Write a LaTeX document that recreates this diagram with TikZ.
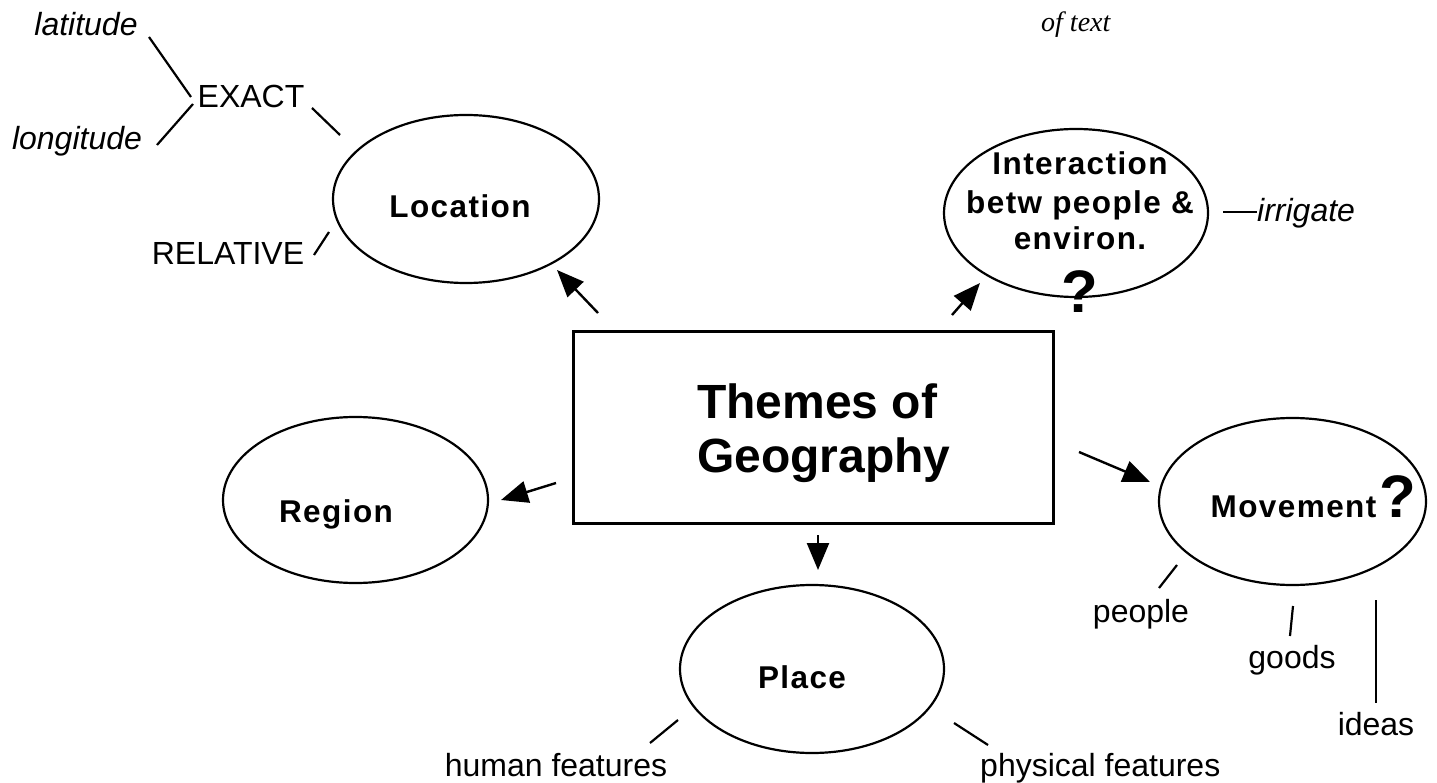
\documentclass[tikz,border=0pt]{standalone}
\usepackage{fontspec}
\setmainfont{Liberation Sans}
\newfontfamily\lblfont[LetterSpace=4.5]{Liberation Sans}
\newfontfamily\chancfont{Liberation Serif}
\usetikzlibrary{arrows.meta,shapes.geometric}
\tikzset{
  theme/.style={draw, ellipse, line width=2.2pt, minimum width=266pt, minimum height=168pt, inner sep=0pt},
  lbl/.style={font=\lblfont\bfseries\fontsize{31.5}{37.5}\selectfont, inner sep=0pt, anchor=base},
  txt/.style={font=\fontsize{32}{38}\selectfont, inner sep=0pt, anchor=base},
  itxt/.style={font=\fontsize{32}{38}\selectfont\itshape, inner sep=0pt, anchor=base},
  link/.style={line width=2.2pt},
  arr/.style={line width=2.4pt, -{Triangle[length=27pt,width=22pt]}},
  qm/.style={font=\bfseries\fontsize{60}{60}\selectfont, inner sep=0pt, anchor=base},
  title/.style={font=\bfseries\fontsize{48}{54}\selectfont, inner sep=0pt, anchor=base west}
}
\begin{document}
\begin{tikzpicture}[x=1pt,y=-1pt]
\useasboundingbox (0,0) rectangle (1437,783);
% central box
\node[draw, line width=3pt, minimum width=480pt, minimum height=191pt, inner sep=0pt] (box) at (813,427.5) {};
\node[title] (t1) at (697,418) {Themes of};
\node[title] (t2) at (697,472) {Geography};
% theme ellipses
\node[theme] (loc) at (466,199) {};
\node[theme, minimum width=264pt] (inter) at (1076,213) {};
\node[theme, minimum width=265pt, minimum height=166pt] (region) at (355.5,500) {};
\node[theme, minimum width=264pt] (place) at (812,669) {};
\node[theme, minimum width=267pt, minimum height=167pt] (move) at (1292.5,501.5) {};
% labels in ellipses
\node[lbl] (locl) at (460,218) {Location};
\node[lbl] (regl) at (336,522) {Region};
\node[lbl] (plal) at (802,688) {Place};
\node[lbl] (movl) at (1293.5,517) {Movement};
\node[qm] (movq) at (1397.5,517) {?};
\node[lbl] (int1) at (1080,175) {Interaction};
\node[lbl] (int2) at (1080,214) {betw people \&};
\node[lbl] (int3) at (1080,250) {environ.};
\node[qm] (intq) at (1080,313) {?};
% arrows
\coordinate (a1s) at (598,313); \coordinate (a1e) at (557,270);
\coordinate (a2s) at (952,315); \coordinate (a2e) at (980,283);
\coordinate (a3s) at (556,483); \coordinate (a3e) at (501,500);
\coordinate (a4s) at (818,535); \coordinate (a4e) at (818,570);
\coordinate (a5s) at (1079,452); \coordinate (a5e) at (1150,482);
\draw[arr] (a1s) -- (a1e);
\draw[arr] (a2s) -- (a2e);
\draw[arr] (a3s) -- (a3e);
\draw[arr] (a4s) -- (a4e);
\draw[arr] (a5s) -- (a5e);
% Location details
\node[itxt] (lat) at (86,36) {latitude};
\node[txt] (exact) at (251,108) {EXACT};
\node[itxt] (lon) at (77,150) {longitude};
\node[txt] (rel) at (228,265) {RELATIVE};
\coordinate (l1s) at (149,37); \coordinate (l1e) at (191,97);
\coordinate (l2s) at (157,145); \coordinate (l2e) at (193,104);
\coordinate (l3s) at (312,108); \coordinate (l3e) at (340,135);
\coordinate (l4s) at (314,255); \coordinate (l4e) at (329,232);
\draw[link] (l1s) -- (l1e);
\draw[link] (l2s) -- (l2e);
\draw[link] (l3s) -- (l3e);
\draw[link] (l4s) -- (l4e);
% Interaction detail
\node[itxt, anchor=base west] (irr) at (1257,222) {irrigate};
\coordinate (l5s) at (1223,212);
\draw[link] (l5s) -- (irr.west |- l5s);
% Movement details
\node[txt] (peo) at (1141,622) {people};
\node[txt] (goo) at (1292,668) {goods};
\node[txt] (ide) at (1376,735) {ideas};
\coordinate (l6s) at (1177,565); \coordinate (l6e) at (1159,588);
\coordinate (l7s) at (1293,606); \coordinate (l7e) at (1290,636);
\coordinate (l8s) at (1376,600); \coordinate (l8e) at (1376,703);
\draw[link] (l6s) -- (l6e);
\draw[link] (l7s) -- (l7e);
\draw[link] (l8s) -- (l8e);
% Place details
\node[txt] (hum) at (556,776) {human features};
\node[txt, anchor=base west] (phy) at (980,776) {physical features};
\coordinate (l9s) at (678,720); \coordinate (l9e) at (650,743);
\coordinate (l10s) at (954,723); \coordinate (l10e) at (988,745);
\draw[link] (l9s) -- (l9e);
\draw[link] (l10s) -- (l10e);
% note top right
\node[font=\chancfont\itshape\fontsize{28}{30}\selectfont, inner sep=0pt, anchor=base west] (note) at (1041,32) {of text};
\end{tikzpicture}
\end{document}
